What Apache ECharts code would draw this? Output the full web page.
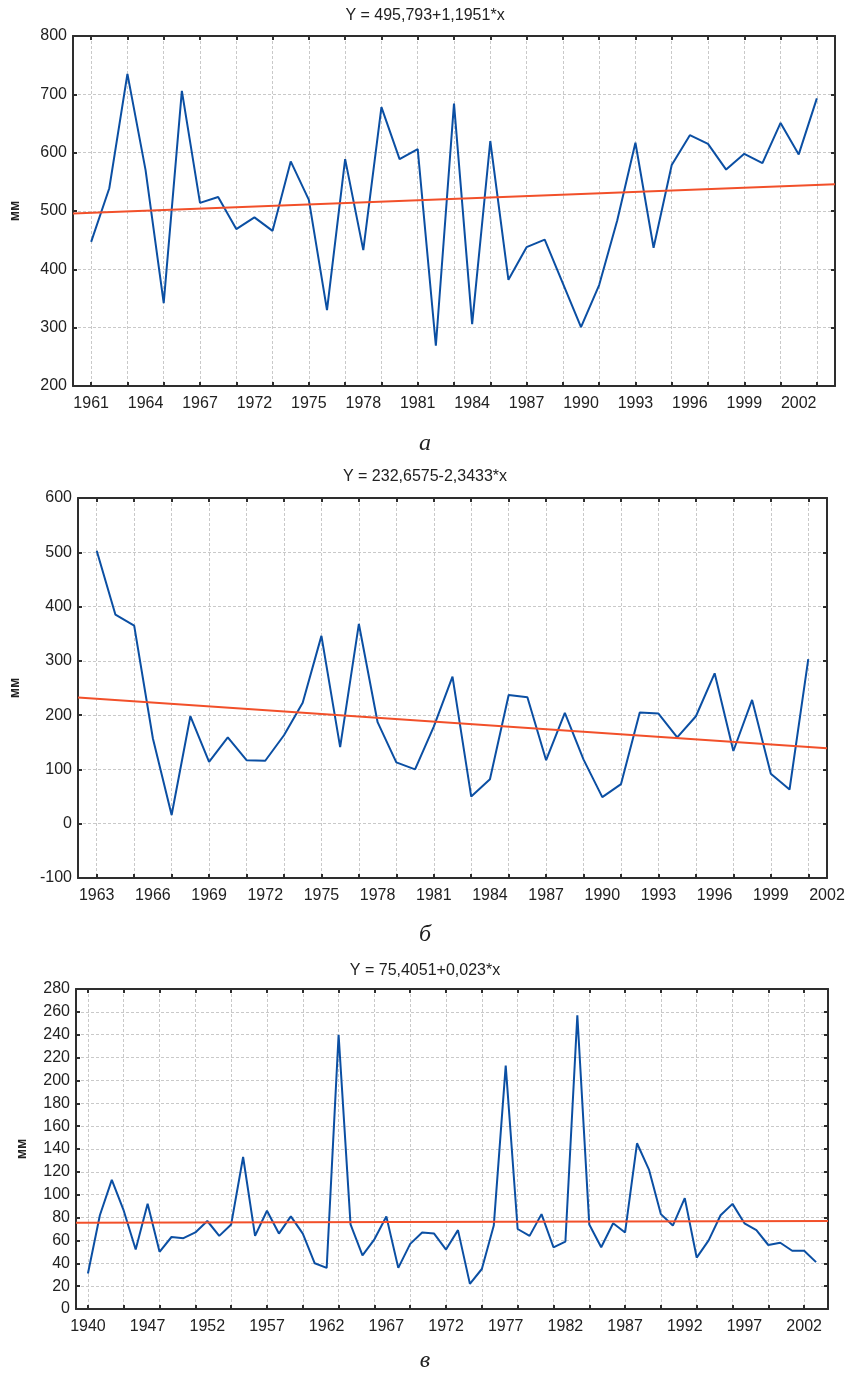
<!DOCTYPE html>
<html>
<head>
<meta charset="utf-8">
<script src="https://cdn.jsdelivr.net/npm/echarts@6/dist/echarts.min.js"></script>
<style>
html,body{margin:0;padding:0;background:#fff;}
#chart{width:850px;height:1373px;}
</style>
</head>
<body>
<div id="chart"></div>
<script>
// ---- Panel а ----
const titleA = 'Y = 495,793+1,1951*x';
const yearsA = ['1961','1962','1963','1964','1965','1966','1967',
  '1970','1971','1972','1973','1974','1975','1976','1977','1978','1979','1980','1981','1982','1983','1984',
  '1985','1986','1987','1988','1989','1990','1991','1992','1993','1994','1995','1996','1997','1998','1999',
  '2000','2001','2002','2003'];
const valuesA = [447,539,735,570,342,706,514,524,469,489,
  466,585,519,330,589,433,678,589,606,269,
  684,306,620,382,438,451,376,301,373,484,
  617,437,579,630,615,571,598,582,651,597,693];
const trendA = [495.8, 546.0];

// ---- Panel б ----
const titleB = 'Y = 232,6575-2,3433*x';
const yearsB = ['1963','1964','1965','1966','1967','1968','1969','1970','1971','1972','1973','1974','1975',
  '1976','1977','1978','1979','1980','1981','1982','1983','1984','1985','1986','1987','1988','1989','1990',
  '1991','1992','1993','1994','1995','1996','1997','1998','1999','2000','2001'];
const endLabelB = '2002';
const valuesB = [503,385,365,157,16,198,114,159,117,116,
  163,223,346,141,368,187,113,100,179,271,
  50,82,237,233,117,204,118,49,73,205,
  203,159,198,277,134,228,92,63,303];
const trendB = [232.7, 139.0];

// ---- Panel в ----
const titleC = 'Y = 75,4051+0,023*x';
const yearsC = ['1940','1943','1944','1945','1946','1947','1948','1949','1950','1951','1952','1953','1954',
  '1955','1956','1957','1958','1959','1960','1961','1962','1963','1964','1965','1966','1967','1968','1969',
  '1970','1971','1972','1973','1974','1975','1976','1977','1978','1979','1980','1981','1982','1983','1984',
  '1985','1986','1987','1988','1989','1990','1991','1992','1993','1994','1995','1996','1997','1998','1999',
  '2000','2001','2002','2003'];
const valuesC = [31,82,113,86,52,92,50,63,62,67,
  77,64,74,133,64,86,66,81,66,40,
  36,240,74,47,61,81,36,57,67,66,
  52,69,22,35,73,213,70,64,83,54,
  59,257,74,54,75,67,145,122,83,73,
  97,45,60,82,92,75,69,56,58,51,
  51,41];
const trendC = [75.4, 76.9];

const captions = ['а', 'б', 'в'];
const yUnit = 'мм';

// ---- build ----
const FONT = 'Liberation Sans, Arial, sans-serif';
const AXIS_COLOR = '#2e2e2e';
const BLUE = '#0b4fa3';
const RED = '#f2502a';

const panels = [
  { title: titleA, cats: [''].concat(yearsA, ['']), values: valuesA, trend: trendA,
    grid: { left: 70, top: 36, width: 765, height: 350 },
    yMin: 200, yMax: 800, yInt: 100, tickStep: 2, labelStep: 3, titleTop: 3, capTop: 427, nameGap: 51 },
  { title: titleB, cats: [''].concat(yearsB, [endLabelB]), values: valuesB, trend: trendB,
    grid: { left: 74, top: 498, width: 753, height: 380 },
    yMin: -100, yMax: 600, yInt: 100, tickStep: 2, labelStep: 3, titleTop: 464, capTop: 918, nameGap: 56 },
  { title: titleC, cats: [''].concat(yearsC, ['']), values: valuesC, trend: trendC,
    grid: { left: 76, top: 989, width: 752, height: 320 },
    yMin: 0, yMax: 280, yInt: 20, tickStep: 3, labelStep: 5, titleTop: 958, capTop: 1344, nameGap: 47 }
];

const option = {
  animation: false,
  backgroundColor: '#fff',
  title: [], grid: [], xAxis: [], yAxis: [], series: []
};

const gridLine = { show: true, lineStyle: { color: '#c9c9c9', width: 1, type: [3, 2] } };

panels.forEach((p, k) => {
  const nData = p.values.length;
  const lastIdx = p.cats.length - 1;
  const tickFn = (i) => i >= 1 && i <= nData && (i - 1) % p.tickStep === 0;
  const labelFn = (i) => i >= 1 && (i - 1) % p.labelStep === 0 && p.cats[i] !== '';
  option.title.push({
    text: p.title, left: 'center', top: p.titleTop,
    textStyle: { fontFamily: FONT, fontSize: 16, fontWeight: 'normal', color: '#222' }
  });
  option.title.push({
    text: captions[k], left: 'center', top: p.capTop,
    textStyle: { fontFamily: 'Liberation Serif, Times New Roman, serif', fontStyle: 'italic',
      fontSize: 24, fontWeight: 'normal', color: '#222' }
  });
  option.grid.push(Object.assign({ containLabel: false }, p.grid));
  option.xAxis.push({
    type: 'category', gridIndex: k, data: p.cats, boundaryGap: false, position: 'bottom',
    axisLine: { show: true, onZero: false, lineStyle: { color: AXIS_COLOR, width: 2 } },
    axisTick: { show: true, inside: true, length: 4, interval: tickFn, lineStyle: { color: AXIS_COLOR, width: 2 } },
    axisLabel: { show: true, interval: labelFn, margin: 10, fontFamily: FONT, fontSize: 16, color: '#222' },
    splitLine: Object.assign({ interval: tickFn }, gridLine)
  });
  option.yAxis.push({
    type: 'value', gridIndex: k, min: p.yMin, max: p.yMax, interval: p.yInt, position: 'left',
    name: yUnit, nameLocation: 'middle', nameGap: p.nameGap,
    nameTextStyle: { fontFamily: FONT, fontSize: 14, fontWeight: 'bold', color: '#222' },
    axisLine: { show: true, onZero: false, lineStyle: { color: AXIS_COLOR, width: 2 } },
    axisTick: { show: true, inside: true, length: 4, lineStyle: { color: AXIS_COLOR, width: 2 } },
    axisLabel: { margin: 6, fontFamily: FONT, fontSize: 16, color: '#222' },
    splitLine: gridLine
  });
  option.series.push({
    type: 'line', xAxisIndex: k, yAxisIndex: k, symbol: 'none', silent: true,
    data: p.values.map((v, i) => [i + 1, v]),
    lineStyle: { color: BLUE, width: 2 }, z: 3
  });
  option.series.push({
    type: 'line', xAxisIndex: k, yAxisIndex: k, symbol: 'none', silent: true,
    data: [[0, p.trend[0]], [lastIdx, p.trend[1]]],
    lineStyle: { color: RED, width: 2 }, z: 4
  });
});

// frame: top and right axes with inside ticks
panels.forEach((p, k) => {
  const nData = p.values.length;
  const tickFn = (i) => i >= 1 && i <= nData && (i - 1) % p.tickStep === 0;
  option.xAxis.push({
    type: 'category', gridIndex: k, data: p.cats, boundaryGap: false, position: 'top',
    axisLine: { show: true, onZero: false, lineStyle: { color: AXIS_COLOR, width: 2 } },
    axisTick: { show: true, inside: true, length: 4, interval: tickFn, lineStyle: { color: AXIS_COLOR, width: 2 } },
    axisLabel: { show: false }, splitLine: { show: false }
  });
  option.yAxis.push({
    type: 'value', gridIndex: k, min: p.yMin, max: p.yMax, interval: p.yInt, position: 'right',
    axisLine: { show: true, onZero: false, lineStyle: { color: AXIS_COLOR, width: 2 } },
    axisTick: { show: true, inside: true, length: 4, lineStyle: { color: AXIS_COLOR, width: 2 } },
    axisLabel: { show: false }, splitLine: { show: false }
  });
});

const chart = echarts.init(document.getElementById('chart'), null, { renderer: 'canvas' });
chart.setOption(option);
</script>
</body>
</html>
